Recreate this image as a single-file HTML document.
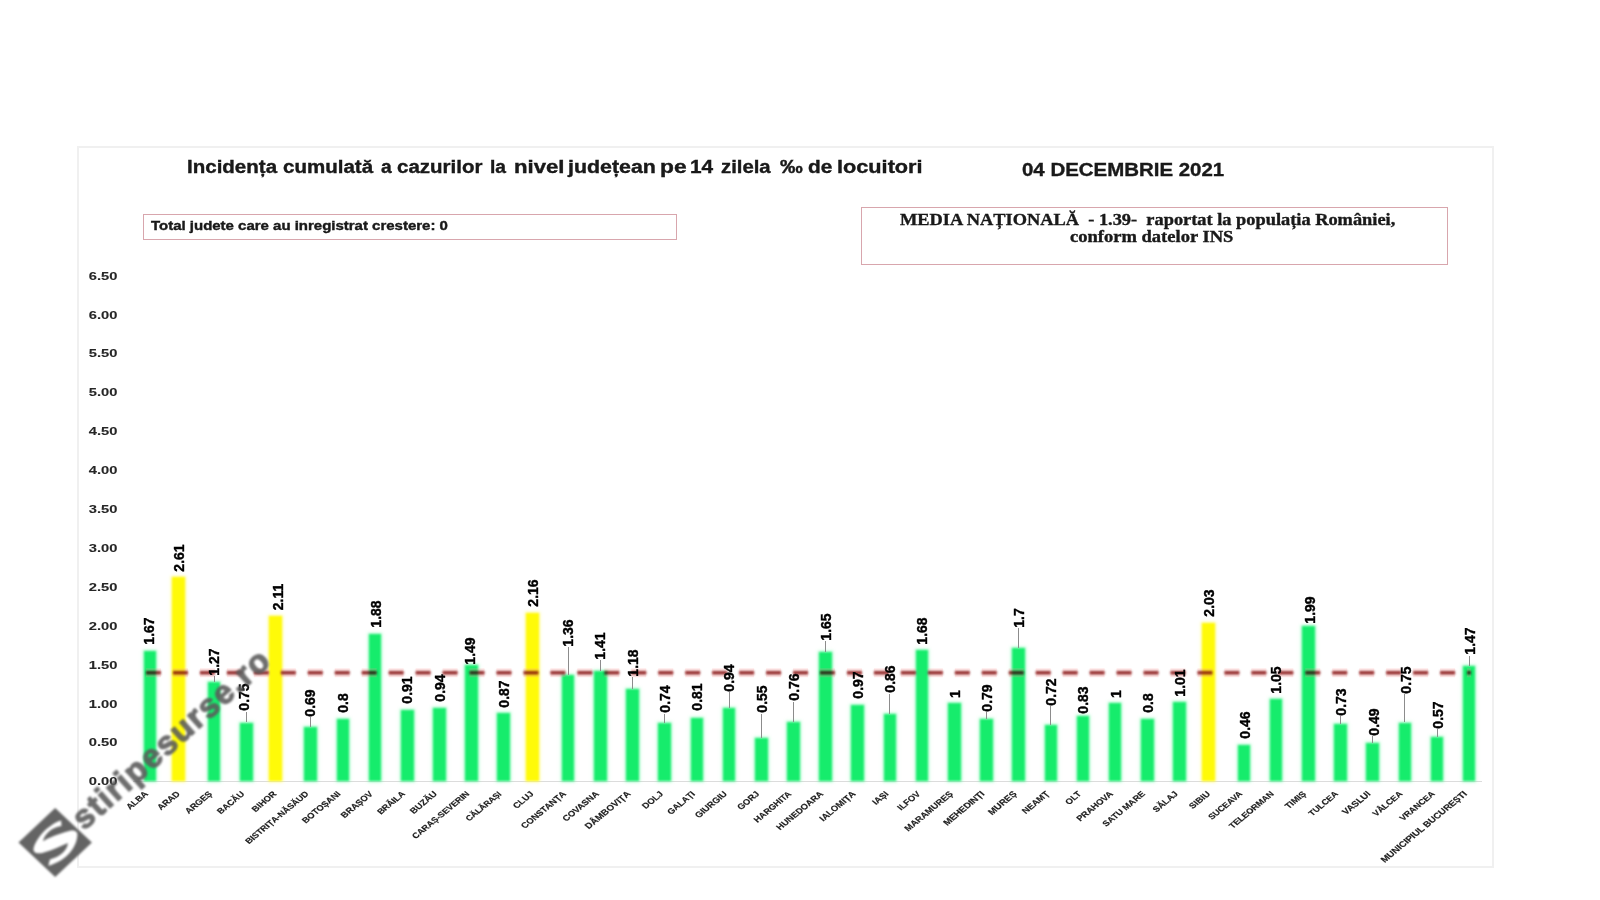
<!DOCTYPE html>
<html><head><meta charset="utf-8"><title>Incidenta</title>
<style>
html,body{margin:0;padding:0;background:#fff;}
body{width:1600px;height:900px;overflow:hidden;position:relative;font-family:"Liberation Sans",sans-serif;}
.a{position:absolute;}
.t{position:absolute;white-space:pre;line-height:1;-webkit-text-stroke:0.35px #111;}
.frame{position:absolute;box-sizing:border-box;left:77px;top:146px;width:1417px;height:722px;border:2px solid #f0f0f0;}
.box{position:absolute;border:1px solid #d8a6ad;}
.yl{position:absolute;right:1483px;font:bold 11px "Liberation Sans",sans-serif;color:#262626;-webkit-text-stroke:0.1px #262626;line-height:1;transform-origin:100% 50%;transform:scaleX(1.335);}
.bar{position:absolute;}
.vl{position:absolute;font:bold 14px "Liberation Sans",sans-serif;color:#000;line-height:14px;height:14px;white-space:pre;-webkit-text-stroke:0.4px #000;transform:rotate(-90deg);text-align:center;}
.ld{position:absolute;width:1px;background:#8c8c8c;}
.cl{position:absolute;font:bold 7.9px "Liberation Sans",sans-serif;color:#1c1c1c;-webkit-text-stroke:0.15px #1c1c1c;line-height:8px;height:8px;white-space:pre;transform-origin:100% 50%;transform:scaleX(1.21) rotate(-45deg);}
</style></head><body>
<div id="wrap" style="position:absolute;left:0;top:0;width:1600px;height:900px;background:#fff;">
<div class="frame"></div>

<div class="t" style="left:187.13px;top:157px;font:bold 17.5px 'Liberation Sans',sans-serif;color:#1a1a1a;transform-origin:0 0;transform:scaleX(1.172);">Incidența</div>
<div class="t" style="left:283.33px;top:157px;font:bold 17.5px 'Liberation Sans',sans-serif;color:#1a1a1a;transform-origin:0 0;transform:scaleX(1.172);">cumulată</div>
<div class="t" style="left:380.55px;top:157px;font:bold 17.5px 'Liberation Sans',sans-serif;color:#1a1a1a;transform-origin:0 0;transform:scaleX(1.100);">a</div>
<div class="t" style="left:397.33px;top:157px;font:bold 17.5px 'Liberation Sans',sans-serif;color:#1a1a1a;transform-origin:0 0;transform:scaleX(1.171);">cazurilor</div>
<div class="t" style="left:490.10px;top:157px;font:bold 17.5px 'Liberation Sans',sans-serif;color:#1a1a1a;transform-origin:0 0;transform:scaleX(1.100);">la</div>
<div class="t" style="left:513.63px;top:157px;font:bold 17.5px 'Liberation Sans',sans-serif;color:#1a1a1a;transform-origin:0 0;transform:scaleX(1.266);">nivel</div>
<div class="t" style="left:567.80px;top:157px;font:bold 17.5px 'Liberation Sans',sans-serif;color:#1a1a1a;transform-origin:0 0;transform:scaleX(1.221);">județean</div>
<div class="t" style="left:660.45px;top:157px;font:bold 17.5px 'Liberation Sans',sans-serif;color:#1a1a1a;transform-origin:0 0;transform:scaleX(1.300);">pe</div>
<div class="t" style="left:690.11px;top:157px;font:bold 17.5px 'Liberation Sans',sans-serif;color:#1a1a1a;transform-origin:0 0;transform:scaleX(1.189);">14</div>
<div class="t" style="left:721.04px;top:157px;font:bold 17.5px 'Liberation Sans',sans-serif;color:#1a1a1a;transform-origin:0 0;transform:scaleX(1.160);">zilela</div>
<div class="t" style="left:780.05px;top:157px;font:bold 17.5px 'Liberation Sans',sans-serif;color:#1a1a1a;transform-origin:0 0;transform:scaleX(1.300);">‰</div>
<div class="t" style="left:807.71px;top:157px;font:bold 17.5px 'Liberation Sans',sans-serif;color:#1a1a1a;transform-origin:0 0;transform:scaleX(1.189);">de</div>
<div class="t" style="left:837.36px;top:157px;font:bold 17.5px 'Liberation Sans',sans-serif;color:#1a1a1a;transform-origin:0 0;transform:scaleX(1.240);">locuitori</div>
<div class="t" id="date" style="left:1022px;top:159px;font:bold 19.2px 'Liberation Sans',sans-serif;color:#1a1a1a;transform-origin:0 0;transform:scaleX(1.065);">04 DECEMBRIE 2021</div>
<div class="box" style="left:143px;top:214px;width:532px;height:24px;"></div>
<div class="t" id="tot" style="left:151px;top:219px;font:bold 12px 'Liberation Sans',sans-serif;color:#1a1a1a;transform-origin:0 0;transform:scaleX(1.248);">Total judete care au inregistrat crestere: 0</div>
<div class="box" style="left:861px;top:207px;width:585px;height:56px;"></div>
<div class="t" id="med1" style="left:900px;top:210px;font:bold 17px 'Liberation Serif',serif;color:#1a1a1a;transform-origin:0 0;transform:scaleX(1.08);">MEDIA NAȚIONALĂ  - 1.39-  raportat la populația României,</div>
<div class="t" id="med2" style="left:1070px;top:227px;font:bold 17px 'Liberation Serif',serif;color:#1a1a1a;transform-origin:0 0;transform:scaleX(1.09);">conform datelor INS</div>
<div class="yl" style="top:776.3px;">0.00</div>
<div class="yl" style="top:737.4px;">0.50</div>
<div class="yl" style="top:698.5px;">1.00</div>
<div class="yl" style="top:659.6px;">1.50</div>
<div class="yl" style="top:620.7px;">2.00</div>
<div class="yl" style="top:581.8px;">2.50</div>
<div class="yl" style="top:542.9px;">3.00</div>
<div class="yl" style="top:504.0px;">3.50</div>
<div class="yl" style="top:465.1px;">4.00</div>
<div class="yl" style="top:426.2px;">4.50</div>
<div class="yl" style="top:387.3px;">5.00</div>
<div class="yl" style="top:348.4px;">5.50</div>
<div class="yl" style="top:309.5px;">6.00</div>
<div class="yl" style="top:270.6px;">6.50</div>
<div class="a" style="left:133px;top:780.5px;width:1349px;height:1px;background:#dcdcdc;"></div>
<div class="a" style="left:0;top:0;width:1600px;height:900px;filter:blur(1px);">
<div class="bar" style="left:143.50px;top:650.74px;width:12.60px;height:130.26px;background:#16ec6c;box-shadow:0 0 2.5px 1px rgba(130,250,180,0.7);"></div>
<div class="bar" style="left:172.38px;top:577.42px;width:12.60px;height:203.58px;background:#fffa08;box-shadow:0 0 2.5px 1px rgba(255,250,120,0.75);"></div>
<div class="bar" style="left:207.86px;top:681.94px;width:12.60px;height:99.06px;background:#16ec6c;box-shadow:0 0 2.5px 1px rgba(130,250,180,0.7);"></div>
<div class="bar" style="left:240.04px;top:722.50px;width:12.60px;height:58.50px;background:#16ec6c;box-shadow:0 0 2.5px 1px rgba(130,250,180,0.7);"></div>
<div class="bar" style="left:268.92px;top:616.42px;width:12.60px;height:164.58px;background:#fffa08;box-shadow:0 0 2.5px 1px rgba(255,250,120,0.75);"></div>
<div class="bar" style="left:304.40px;top:727.18px;width:12.60px;height:53.82px;background:#16ec6c;box-shadow:0 0 2.5px 1px rgba(130,250,180,0.7);"></div>
<div class="bar" style="left:336.58px;top:718.60px;width:12.60px;height:62.40px;background:#16ec6c;box-shadow:0 0 2.5px 1px rgba(130,250,180,0.7);"></div>
<div class="bar" style="left:368.76px;top:634.36px;width:12.60px;height:146.64px;background:#16ec6c;box-shadow:0 0 2.5px 1px rgba(130,250,180,0.7);"></div>
<div class="bar" style="left:400.94px;top:710.02px;width:12.60px;height:70.98px;background:#16ec6c;box-shadow:0 0 2.5px 1px rgba(130,250,180,0.7);"></div>
<div class="bar" style="left:433.12px;top:707.68px;width:12.60px;height:73.32px;background:#16ec6c;box-shadow:0 0 2.5px 1px rgba(130,250,180,0.7);"></div>
<div class="bar" style="left:465.30px;top:664.78px;width:12.60px;height:116.22px;background:#16ec6c;box-shadow:0 0 2.5px 1px rgba(130,250,180,0.7);"></div>
<div class="bar" style="left:497.48px;top:713.14px;width:12.60px;height:67.86px;background:#16ec6c;box-shadow:0 0 2.5px 1px rgba(130,250,180,0.7);"></div>
<div class="bar" style="left:526.36px;top:612.52px;width:12.60px;height:168.48px;background:#fffa08;box-shadow:0 0 2.5px 1px rgba(255,250,120,0.75);"></div>
<div class="bar" style="left:561.84px;top:674.92px;width:12.60px;height:106.08px;background:#16ec6c;box-shadow:0 0 2.5px 1px rgba(130,250,180,0.7);"></div>
<div class="bar" style="left:594.02px;top:671.02px;width:12.60px;height:109.98px;background:#16ec6c;box-shadow:0 0 2.5px 1px rgba(130,250,180,0.7);"></div>
<div class="bar" style="left:626.20px;top:688.96px;width:12.60px;height:92.04px;background:#16ec6c;box-shadow:0 0 2.5px 1px rgba(130,250,180,0.7);"></div>
<div class="bar" style="left:658.38px;top:723.28px;width:12.60px;height:57.72px;background:#16ec6c;box-shadow:0 0 2.5px 1px rgba(130,250,180,0.7);"></div>
<div class="bar" style="left:690.56px;top:717.82px;width:12.60px;height:63.18px;background:#16ec6c;box-shadow:0 0 2.5px 1px rgba(130,250,180,0.7);"></div>
<div class="bar" style="left:722.74px;top:707.68px;width:12.60px;height:73.32px;background:#16ec6c;box-shadow:0 0 2.5px 1px rgba(130,250,180,0.7);"></div>
<div class="bar" style="left:754.92px;top:738.10px;width:12.60px;height:42.90px;background:#16ec6c;box-shadow:0 0 2.5px 1px rgba(130,250,180,0.7);"></div>
<div class="bar" style="left:787.10px;top:721.72px;width:12.60px;height:59.28px;background:#16ec6c;box-shadow:0 0 2.5px 1px rgba(130,250,180,0.7);"></div>
<div class="bar" style="left:819.28px;top:652.30px;width:12.60px;height:128.70px;background:#16ec6c;box-shadow:0 0 2.5px 1px rgba(130,250,180,0.7);"></div>
<div class="bar" style="left:851.46px;top:705.34px;width:12.60px;height:75.66px;background:#16ec6c;box-shadow:0 0 2.5px 1px rgba(130,250,180,0.7);"></div>
<div class="bar" style="left:883.64px;top:713.92px;width:12.60px;height:67.08px;background:#16ec6c;box-shadow:0 0 2.5px 1px rgba(130,250,180,0.7);"></div>
<div class="bar" style="left:915.82px;top:649.96px;width:12.60px;height:131.04px;background:#16ec6c;box-shadow:0 0 2.5px 1px rgba(130,250,180,0.7);"></div>
<div class="bar" style="left:948.00px;top:703.00px;width:12.60px;height:78.00px;background:#16ec6c;box-shadow:0 0 2.5px 1px rgba(130,250,180,0.7);"></div>
<div class="bar" style="left:980.18px;top:719.38px;width:12.60px;height:61.62px;background:#16ec6c;box-shadow:0 0 2.5px 1px rgba(130,250,180,0.7);"></div>
<div class="bar" style="left:1012.36px;top:648.40px;width:12.60px;height:132.60px;background:#16ec6c;box-shadow:0 0 2.5px 1px rgba(130,250,180,0.7);"></div>
<div class="bar" style="left:1044.54px;top:724.84px;width:12.60px;height:56.16px;background:#16ec6c;box-shadow:0 0 2.5px 1px rgba(130,250,180,0.7);"></div>
<div class="bar" style="left:1076.72px;top:716.26px;width:12.60px;height:64.74px;background:#16ec6c;box-shadow:0 0 2.5px 1px rgba(130,250,180,0.7);"></div>
<div class="bar" style="left:1108.90px;top:703.00px;width:12.60px;height:78.00px;background:#16ec6c;box-shadow:0 0 2.5px 1px rgba(130,250,180,0.7);"></div>
<div class="bar" style="left:1141.08px;top:718.60px;width:12.60px;height:62.40px;background:#16ec6c;box-shadow:0 0 2.5px 1px rgba(130,250,180,0.7);"></div>
<div class="bar" style="left:1173.26px;top:702.22px;width:12.60px;height:78.78px;background:#16ec6c;box-shadow:0 0 2.5px 1px rgba(130,250,180,0.7);"></div>
<div class="bar" style="left:1202.14px;top:622.66px;width:12.60px;height:158.34px;background:#fffa08;box-shadow:0 0 2.5px 1px rgba(255,250,120,0.75);"></div>
<div class="bar" style="left:1237.62px;top:745.12px;width:12.60px;height:35.88px;background:#16ec6c;box-shadow:0 0 2.5px 1px rgba(130,250,180,0.7);"></div>
<div class="bar" style="left:1269.80px;top:699.10px;width:12.60px;height:81.90px;background:#16ec6c;box-shadow:0 0 2.5px 1px rgba(130,250,180,0.7);"></div>
<div class="bar" style="left:1301.98px;top:625.78px;width:12.60px;height:155.22px;background:#16ec6c;box-shadow:0 0 2.5px 1px rgba(130,250,180,0.7);"></div>
<div class="bar" style="left:1334.16px;top:724.06px;width:12.60px;height:56.94px;background:#16ec6c;box-shadow:0 0 2.5px 1px rgba(130,250,180,0.7);"></div>
<div class="bar" style="left:1366.34px;top:742.78px;width:12.60px;height:38.22px;background:#16ec6c;box-shadow:0 0 2.5px 1px rgba(130,250,180,0.7);"></div>
<div class="bar" style="left:1398.52px;top:722.50px;width:12.60px;height:58.50px;background:#16ec6c;box-shadow:0 0 2.5px 1px rgba(130,250,180,0.7);"></div>
<div class="bar" style="left:1430.70px;top:736.54px;width:12.60px;height:44.46px;background:#16ec6c;box-shadow:0 0 2.5px 1px rgba(130,250,180,0.7);"></div>
<div class="bar" style="left:1462.88px;top:666.34px;width:12.60px;height:114.66px;background:#16ec6c;box-shadow:0 0 2.5px 1px rgba(130,250,180,0.7);"></div>
</div>
<svg class="a" style="left:0;top:0;" width="1600" height="900"><line x1="146" y1="672.7" x2="1471" y2="672.7" stroke="#ff9a9a" stroke-opacity="0.22" stroke-width="9" stroke-dasharray="15 11.96"/></svg>
<svg class="a" style="left:0;top:0;mix-blend-mode:multiply;" width="1600" height="900"><filter id="fb" filterUnits="userSpaceOnUse" x="100" y="655" width="1400" height="35"><feGaussianBlur stdDeviation="0.9"/></filter><line filter="url(#fb)" x1="146" y1="672.7" x2="1471" y2="672.7" stroke="#963434" stroke-width="3.4" stroke-dasharray="15 11.96"/></svg>
<div class="vl" style="left:148.90px;top:631.25px;width:40px;margin-left:-20px;margin-top:-7px;">1.67</div>
<div class="vl" style="left:179.20px;top:558.35px;width:40px;margin-left:-20px;margin-top:-7px;">2.61</div>
<div class="ld" style="left:213.66px;top:675.50px;height:6.44px;"></div>
<div class="vl" style="left:214.30px;top:661.75px;width:40px;margin-left:-20px;margin-top:-7px;">1.27</div>
<div class="ld" style="left:245.84px;top:711.80px;height:10.70px;"></div>
<div class="vl" style="left:243.70px;top:697.40px;width:40px;margin-left:-20px;margin-top:-7px;">0.75</div>
<div class="vl" style="left:277.70px;top:597.05px;width:40px;margin-left:-20px;margin-top:-7px;">2.11</div>
<div class="ld" style="left:310.20px;top:716.90px;height:10.28px;"></div>
<div class="vl" style="left:310.20px;top:703.15px;width:40px;margin-left:-20px;margin-top:-7px;">0.69</div>
<div class="vl" style="left:343.40px;top:703.15px;width:40px;margin-left:-20px;margin-top:-7px;">0.8</div>
<div class="vl" style="left:375.90px;top:614.30px;width:40px;margin-left:-20px;margin-top:-7px;">1.88</div>
<div class="vl" style="left:407.30px;top:690.35px;width:40px;margin-left:-20px;margin-top:-7px;">0.91</div>
<div class="vl" style="left:439.80px;top:688.45px;width:40px;margin-left:-20px;margin-top:-7px;">0.94</div>
<div class="vl" style="left:470.00px;top:650.75px;width:40px;margin-left:-20px;margin-top:-7px;">1.49</div>
<div class="vl" style="left:504.40px;top:693.50px;width:40px;margin-left:-20px;margin-top:-7px;">0.87</div>
<div class="vl" style="left:533.20px;top:592.85px;width:40px;margin-left:-20px;margin-top:-7px;">2.16</div>
<div class="ld" style="left:567.64px;top:647.25px;height:27.67px;"></div>
<div class="vl" style="left:568.00px;top:632.50px;width:40px;margin-left:-20px;margin-top:-7px;">1.36</div>
<div class="ld" style="left:599.82px;top:659.75px;height:11.27px;"></div>
<div class="vl" style="left:600.00px;top:645.62px;width:40px;margin-left:-20px;margin-top:-7px;">1.41</div>
<div class="ld" style="left:632.00px;top:677.25px;height:11.71px;"></div>
<div class="vl" style="left:633.00px;top:662.50px;width:40px;margin-left:-20px;margin-top:-7px;">1.18</div>
<div class="ld" style="left:664.18px;top:713.50px;height:9.78px;"></div>
<div class="vl" style="left:665.00px;top:699.38px;width:40px;margin-left:-20px;margin-top:-7px;">0.74</div>
<div class="vl" style="left:697.00px;top:696.88px;width:40px;margin-left:-20px;margin-top:-7px;">0.81</div>
<div class="ld" style="left:728.54px;top:692.25px;height:15.43px;"></div>
<div class="vl" style="left:729.00px;top:677.50px;width:40px;margin-left:-20px;margin-top:-7px;">0.94</div>
<div class="ld" style="left:760.72px;top:713.50px;height:24.60px;"></div>
<div class="vl" style="left:762.00px;top:699.38px;width:40px;margin-left:-20px;margin-top:-7px;">0.55</div>
<div class="ld" style="left:792.90px;top:702.25px;height:19.47px;"></div>
<div class="vl" style="left:794.00px;top:686.88px;width:40px;margin-left:-20px;margin-top:-7px;">0.76</div>
<div class="ld" style="left:825.08px;top:641.00px;height:11.30px;"></div>
<div class="vl" style="left:826.00px;top:626.88px;width:40px;margin-left:-20px;margin-top:-7px;">1.65</div>
<div class="vl" style="left:857.50px;top:685.38px;width:40px;margin-left:-20px;margin-top:-7px;">0.97</div>
<div class="ld" style="left:889.44px;top:693.50px;height:20.42px;"></div>
<div class="vl" style="left:890.00px;top:679.38px;width:40px;margin-left:-20px;margin-top:-7px;">0.86</div>
<div class="vl" style="left:922.00px;top:631.00px;width:40px;margin-left:-20px;margin-top:-7px;">1.68</div>
<div class="vl" style="left:955.00px;top:694.12px;width:40px;margin-left:-20px;margin-top:-7px;">1</div>
<div class="ld" style="left:985.98px;top:712.25px;height:7.13px;"></div>
<div class="vl" style="left:987.00px;top:697.88px;width:40px;margin-left:-20px;margin-top:-7px;">0.79</div>
<div class="ld" style="left:1018.16px;top:628.00px;height:20.40px;"></div>
<div class="vl" style="left:1019.00px;top:618.25px;width:40px;margin-left:-20px;margin-top:-7px;">1.7</div>
<div class="ld" style="left:1050.34px;top:706.00px;height:18.84px;"></div>
<div class="vl" style="left:1051.00px;top:691.88px;width:40px;margin-left:-20px;margin-top:-7px;">0.72</div>
<div class="vl" style="left:1083.00px;top:700.00px;width:40px;margin-left:-20px;margin-top:-7px;">0.83</div>
<div class="vl" style="left:1116.00px;top:694.38px;width:40px;margin-left:-20px;margin-top:-7px;">1</div>
<div class="vl" style="left:1148.00px;top:703.12px;width:40px;margin-left:-20px;margin-top:-7px;">0.8</div>
<div class="vl" style="left:1180.00px;top:682.50px;width:40px;margin-left:-20px;margin-top:-7px;">1.01</div>
<div class="vl" style="left:1209.00px;top:602.50px;width:40px;margin-left:-20px;margin-top:-7px;">2.03</div>
<div class="vl" style="left:1245.00px;top:725.38px;width:40px;margin-left:-20px;margin-top:-7px;">0.46</div>
<div class="vl" style="left:1276.00px;top:679.80px;width:40px;margin-left:-20px;margin-top:-7px;">1.05</div>
<div class="vl" style="left:1310.00px;top:610.00px;width:40px;margin-left:-20px;margin-top:-7px;">1.99</div>
<div class="ld" style="left:1339.96px;top:715.90px;height:8.16px;"></div>
<div class="vl" style="left:1341.00px;top:701.70px;width:40px;margin-left:-20px;margin-top:-7px;">0.73</div>
<div class="ld" style="left:1372.14px;top:736.20px;height:6.58px;"></div>
<div class="vl" style="left:1374.00px;top:721.80px;width:40px;margin-left:-20px;margin-top:-7px;">0.49</div>
<div class="ld" style="left:1404.32px;top:694.20px;height:28.30px;"></div>
<div class="vl" style="left:1406.00px;top:679.80px;width:40px;margin-left:-20px;margin-top:-7px;">0.75</div>
<div class="ld" style="left:1436.50px;top:729.20px;height:7.34px;"></div>
<div class="vl" style="left:1438.00px;top:714.80px;width:40px;margin-left:-20px;margin-top:-7px;">0.57</div>
<div class="ld" style="left:1468.68px;top:655.70px;height:10.64px;"></div>
<div class="vl" style="left:1470.00px;top:641.25px;width:40px;margin-left:-20px;margin-top:-7px;">1.47</div>
<div class="cl" style="right:1453.20px;top:788.80px;font-size:7.90px;">ALBA</div>
<div class="cl" style="right:1421.02px;top:788.80px;font-size:7.90px;">ARAD</div>
<div class="cl" style="right:1388.84px;top:788.80px;font-size:7.90px;">ARGEȘ</div>
<div class="cl" style="right:1356.66px;top:788.80px;font-size:7.83px;">BACĂU</div>
<div class="cl" style="right:1324.48px;top:788.80px;font-size:7.90px;">BIHOR</div>
<div class="cl" style="right:1292.30px;top:788.80px;font-size:7.66px;">BISTRIȚA-NĂSĂUD</div>
<div class="cl" style="right:1260.12px;top:788.80px;font-size:7.88px;">BOTOȘANI</div>
<div class="cl" style="right:1227.94px;top:788.80px;font-size:7.93px;">BRAȘOV</div>
<div class="cl" style="right:1195.76px;top:788.80px;font-size:7.66px;">BRĂILA</div>
<div class="cl" style="right:1163.58px;top:788.80px;font-size:8.03px;">BUZĂU</div>
<div class="cl" style="right:1131.40px;top:788.80px;font-size:7.66px;">CARAȘ-SEVERIN</div>
<div class="cl" style="right:1099.22px;top:788.80px;font-size:7.43px;">CĂLĂRAȘI</div>
<div class="cl" style="right:1067.04px;top:788.80px;font-size:7.90px;">CLUJ</div>
<div class="cl" style="right:1034.86px;top:788.80px;font-size:7.92px;">CONSTANȚA</div>
<div class="cl" style="right:1002.68px;top:788.80px;font-size:7.88px;">COVASNA</div>
<div class="cl" style="right:970.50px;top:788.80px;font-size:8.20px;">DÂMBOVIȚA</div>
<div class="cl" style="right:938.32px;top:788.80px;font-size:7.90px;">DOLJ</div>
<div class="cl" style="right:906.14px;top:788.80px;font-size:7.79px;">GALAȚI</div>
<div class="cl" style="right:873.96px;top:788.80px;font-size:7.96px;">GIURGIU</div>
<div class="cl" style="right:841.78px;top:788.80px;font-size:7.90px;">GORJ</div>
<div class="cl" style="right:809.60px;top:788.80px;font-size:7.78px;">HARGHITA</div>
<div class="cl" style="right:777.42px;top:788.80px;font-size:7.88px;">HUNEDOARA</div>
<div class="cl" style="right:745.24px;top:788.80px;font-size:7.99px;">IALOMIȚA</div>
<div class="cl" style="right:713.06px;top:788.80px;font-size:7.90px;">IAȘI</div>
<div class="cl" style="right:680.88px;top:788.80px;font-size:7.90px;">ILFOV</div>
<div class="cl" style="right:648.70px;top:788.80px;font-size:7.99px;">MARAMUREȘ</div>
<div class="cl" style="right:616.52px;top:788.80px;font-size:8.11px;">MEHEDINȚI</div>
<div class="cl" style="right:584.34px;top:788.80px;font-size:8.22px;">MUREȘ</div>
<div class="cl" style="right:552.16px;top:788.80px;font-size:7.90px;">NEAMȚ</div>
<div class="cl" style="right:519.98px;top:788.80px;font-size:7.90px;">OLT</div>
<div class="cl" style="right:487.80px;top:788.80px;font-size:7.89px;">PRAHOVA</div>
<div class="cl" style="right:455.62px;top:788.80px;font-size:7.85px;">SATU MARE</div>
<div class="cl" style="right:423.44px;top:788.80px;font-size:7.90px;">SĂLAJ</div>
<div class="cl" style="right:391.26px;top:788.80px;font-size:7.90px;">SIBIU</div>
<div class="cl" style="right:359.08px;top:788.80px;font-size:7.66px;">SUCEAVA</div>
<div class="cl" style="right:326.90px;top:788.80px;font-size:7.71px;">TELEORMAN</div>
<div class="cl" style="right:294.72px;top:788.80px;font-size:7.90px;">TIMIȘ</div>
<div class="cl" style="right:262.54px;top:788.80px;font-size:7.66px;">TULCEA</div>
<div class="cl" style="right:230.36px;top:788.80px;font-size:8.21px;">VASLUI</div>
<div class="cl" style="right:198.18px;top:788.80px;font-size:7.66px;">VÂLCEA</div>
<div class="cl" style="right:166.00px;top:788.80px;font-size:7.66px;">VRANCEA</div>
<div class="cl" style="right:133.82px;top:788.80px;font-size:8.14px;">MUNICIPIUL BUCUREȘTI</div>
<svg class="a" style="left:0;top:0;filter:blur(1px);" width="1600" height="900">
<text x="0" y="0" font-family="Liberation Sans" font-weight="bold" font-size="33" letter-spacing="1.6" fill="#5c5c5c" fill-opacity="0.88" stroke="#5c5c5c" stroke-opacity="0.88" stroke-width="1.2" transform="translate(84,831) rotate(-41.6)">stiripesurse.ro</text>
<g transform="translate(55.2,842.5)">
<polygon points="-36.7,0 0,-34.5 36.7,0 0,34.5" fill="#646464"/>
</g><g transform="translate(30,815) scale(0.06112)">
<path d="M 510,90 C 350,130 120,330 60,540 C 40,620 120,640 200,620 C 380,580 560,480 620,460 C 610,590 480,690 325,728 L 300,830 C 560,760 760,560 775,330 C 780,260 720,240 640,260 C 480,300 300,370 210,430 C 240,310 350,200 515,178 Z" fill="#fff"/>
</g>
</svg>
</div></body></html>
